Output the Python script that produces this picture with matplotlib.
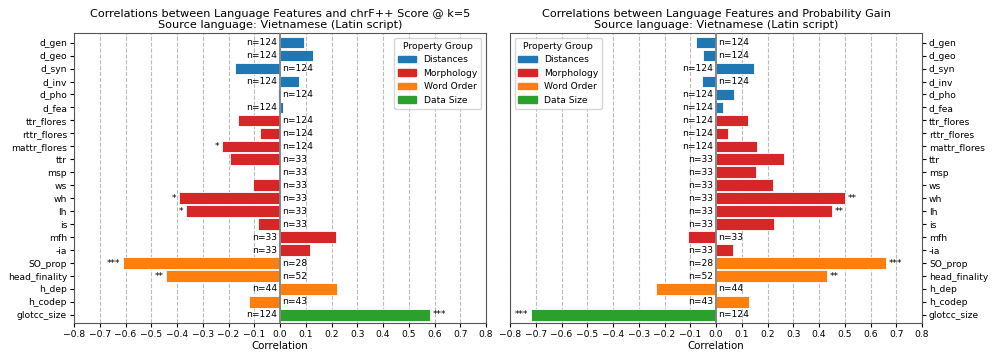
import matplotlib
matplotlib.use("Agg")
import matplotlib.pyplot as plt
from matplotlib.patches import Patch

features = ["d_gen", "d_geo", "d_syn", "d_inv", "d_pho", "d_fea",
            "ttr_flores", "rttr_flores", "mattr_flores", "ttr", "msp", "ws",
            "wh", "lh", "is", "mfh", "-ia",
            "SO_prop", "head_finality", "h_dep", "h_codep", "glotcc_size"]
groups = ["Distances"] * 6 + ["Morphology"] * 11 + ["Word Order"] * 4 + ["Data Size"]
n_obs = [124, 124, 124, 124, 124, 124, 124, 124, 124, 33, 33, 33, 33, 33, 33, 33, 33,
         28, 52, 44, 43, 124]

corr_chrf = [0.093, 0.127, -0.176, 0.073, -0.008, 0.010,
             -0.162, -0.079, -0.227, -0.194, -0.005, -0.104,
             -0.392, -0.365, -0.087, 0.216, 0.118,
             -0.611, -0.443, 0.221, -0.119, 0.583]
sig_chrf = ["", "", "", "", "", "", "", "", "*", "", "", "",
            "*", "*", "", "", "", "***", "**", "", "", "***"]

corr_gain = [-0.078, -0.049, 0.148, -0.054, 0.070, 0.026,
             0.124, 0.048, 0.158, 0.264, 0.155, 0.223,
             0.501, 0.452, 0.225, -0.110, 0.067,
             0.660, 0.430, -0.234, 0.128, -0.718]
sig_gain = ["", "", "", "", "", "", "", "", "", "", "", "",
            "**", "**", "", "", "", "***", "**", "", "", "***"]

group_colors = {"Distances": "#1f77b4", "Morphology": "#d62728",
                "Word Order": "#ff7f0e", "Data Size": "#2ca02c"}
ticks = [round(-0.8 + 0.1 * i, 1) for i in range(17)]

fig = plt.figure(figsize=(9.97, 3.6), dpi=100)
ax1 = fig.add_axes([74 / 997, 37.3 / 360, 412 / 997, 289.4 / 360])
ax2 = fig.add_axes([510 / 997, 37.3 / 360, 412 / 997, 289.4 / 360])

FS = 6.6


def panel(ax, vals, sig, title, legend_loc):
    y = list(range(len(features)))
    cols = [group_colors[g] for g in groups]
    ax.barh(y, vals, height=0.9, color=cols, edgecolor="white", linewidth=0.6, zorder=3)
    ax.axvline(0, color="gray", lw=1.3, zorder=4)
    for yi, v, n, s in zip(y, vals, n_obs, sig):
        if v >= 0:
            ax.text(-0.01, yi, f"n={n}", ha="right", va="center", fontsize=FS, zorder=5)
            if s:
                ax.text(v + 0.01, yi, s, ha="left", va="center", fontsize=FS, zorder=5)
        else:
            ax.text(0.01, yi, f"n={n}", ha="left", va="center", fontsize=FS, zorder=5)
            if s:
                ax.text(v - 0.01, yi, s, ha="right", va="center", fontsize=FS, zorder=5)
    ax.set_yticks(y)
    ax.set_yticklabels(features, fontsize=FS)
    ax.set_ylim(len(features) - 1 + 0.6, -0.72)
    ax.set_xlim(-0.8, 0.8)
    ax.set_xticks(ticks)
    ax.set_xticklabels([f"{t:.1f}".replace("-", "\u2212") for t in ticks], fontsize=FS)
    ax.tick_params(length=3, pad=2)
    ax.grid(axis="x", ls="--", color="#bbbbbb", lw=0.8, zorder=0)
    ax.set_xlabel("Correlation", fontsize=7.4, labelpad=2)
    ax.set_title(title, fontsize=8.1, pad=4, linespacing=1.15)
    for sp in ax.spines.values():
        sp.set_color("#555555")
    handles = [Patch(color=group_colors[g]) for g in group_colors]
    ax.legend(handles, list(group_colors), title="Property Group", loc=legend_loc,
              fontsize=FS, title_fontsize=FS)


panel(ax1, corr_chrf, sig_chrf,
      "Correlations between Language Features and chrF++ Score @ k=5\nSource language: Vietnamese (Latin script)",
      "upper right")
panel(ax2, corr_gain, sig_gain,
      "Correlations between Language Features and Probability Gain\nSource language: Vietnamese (Latin script)",
      "upper left")
ax2.yaxis.tick_right()

fig.savefig("out.png", dpi=100)
